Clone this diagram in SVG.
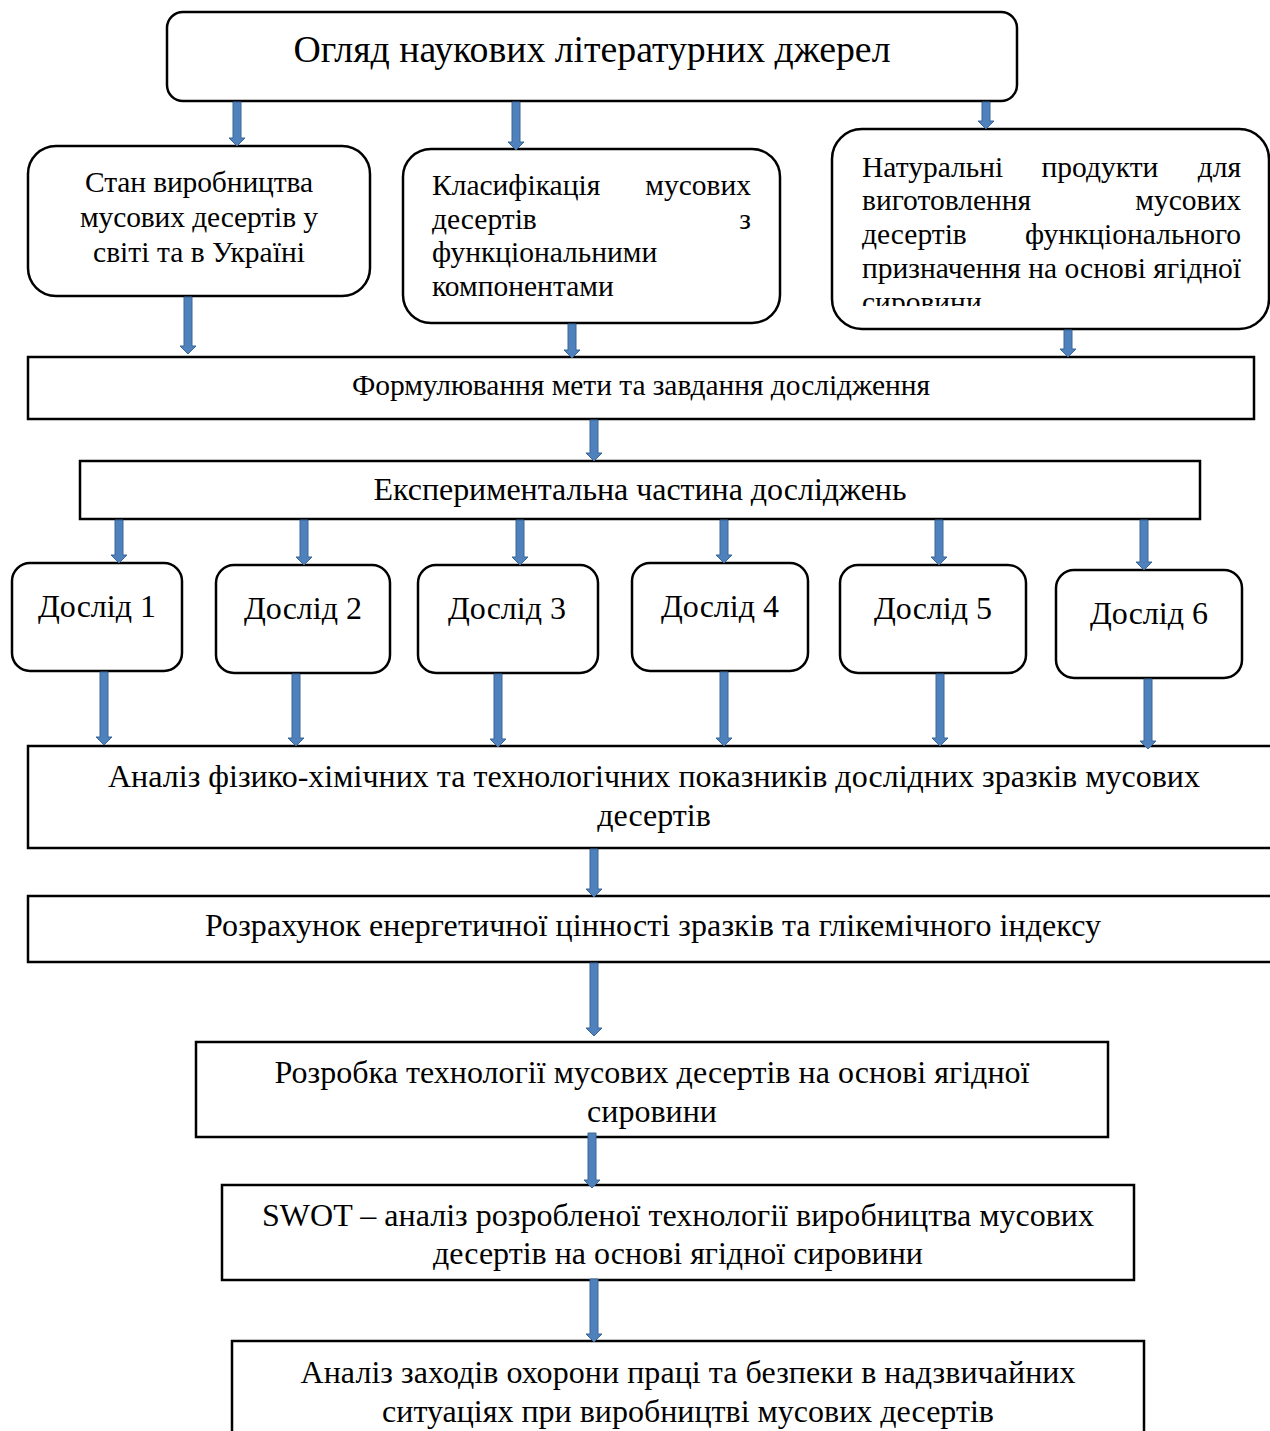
<svg xmlns="http://www.w3.org/2000/svg" width="1270" height="1431" viewBox="0 0 1270 1431">
<style>
.box{fill:#fff;stroke:#000;stroke-width:2.5}
.t{font-family:"Liberation Serif","Times New Roman",serif;fill:#000}
.c{text-anchor:middle}
.e{text-anchor:end}
.s{font-size:29.5px}
.m{font-size:32px}
.arr{fill:#4f81bd;stroke:#3a6698;stroke-width:1}
</style>
<defs>
<clipPath id="clipR"><rect x="832" y="129" width="440" height="177"/></clipPath>
</defs>
<rect width="1270" height="1431" fill="#fff"/>

<g id="n-top">
<rect class="box" x="167" y="12" width="850" height="89" rx="16"/>
<text class="t c" x="592" y="62" font-size="37.8" textLength="597">Огляд наукових літературних джерел</text>
</g>

<g id="n-stan">
<rect class="box" x="28" y="146" width="342" height="150" rx="28"/>
<text class="t c s" x="199" y="192" textLength="228">Стан виробництва</text>
<text class="t c s" x="199" y="227" textLength="238">мусових десертів у</text>
<text class="t c s" x="199" y="262" textLength="212">світі та в Україні</text>
</g>

<g id="n-klas">
<rect class="box" x="403" y="149" width="377" height="174" rx="28"/>
<text class="t s" x="432" y="195">Класифікація</text>
<text class="t e s" x="751" y="195">мусових</text>
<text class="t s" x="432" y="229">десертів</text>
<text class="t e s" x="751" y="229">з</text>
<text class="t s" x="432" y="262">функціональними</text>
<text class="t s" x="432" y="296">компонентами</text>
</g>

<g id="n-nat">
<rect class="box" x="832" y="129" width="437" height="200" rx="30"/>
<g clip-path="url(#clipR)">
<text class="t s" x="862" y="177">Натуральні</text>
<text class="t c s" x="1100" y="177">продукти</text>
<text class="t e s" x="1241" y="177">для</text>
<text class="t s" x="862" y="210">виготовлення</text>
<text class="t e s" x="1241" y="210">мусових</text>
<text class="t s" x="862" y="244">десертів</text>
<text class="t e s" x="1241" y="244">функціонального</text>
<text class="t s" x="862" y="278" textLength="379" lengthAdjust="spacing">призначення на основі ягідної</text>
<text class="t s" x="862" y="312">сировини</text>
</g>
</g>

<g id="n-meta">
<rect class="box" x="28" y="357" width="1226" height="62"/>
<text class="t c s" x="641" y="395" textLength="578">Формулювання мети та завдання дослідження</text>
</g>

<g id="n-exp">
<rect class="box" x="80" y="461" width="1120" height="58"/>
<text class="t c m" x="640" y="500" textLength="533">Експериментальна частина досліджень</text>
</g>

<g id="n-d1"><rect class="box" x="12" y="563" width="170" height="108" rx="18"/><text class="t c m" x="97" y="617">Дослід 1</text></g>
<g id="n-d2"><rect class="box" x="216" y="565" width="174" height="108" rx="18"/><text class="t c m" x="303" y="619">Дослід 2</text></g>
<g id="n-d3"><rect class="box" x="418" y="565" width="180" height="108" rx="18"/><text class="t c m" x="507" y="619">Дослід 3</text></g>
<g id="n-d4"><rect class="box" x="632" y="563" width="176" height="108" rx="18"/><text class="t c m" x="720" y="617">Дослід 4</text></g>
<g id="n-d5"><rect class="box" x="840" y="565" width="186" height="108" rx="18"/><text class="t c m" x="933" y="619">Дослід 5</text></g>
<g id="n-d6"><rect class="box" x="1056" y="570" width="186" height="108" rx="18"/><text class="t c m" x="1149" y="624">Дослід 6</text></g>

<g id="n-analiz">
<rect class="box" x="28" y="746" width="1250" height="102"/>
<text class="t c m" x="654" y="787" textLength="1092">Аналіз фізико-хімічних та технологічних показників дослідних зразків мусових</text>
<text class="t c m" x="654" y="826">десертів</text>
</g>

<g id="n-rozr">
<rect class="box" x="28" y="896" width="1250" height="66"/>
<text class="t c m" x="653" y="936" textLength="896">Розрахунок енергетичної цінності зразків та глікемічного індексу</text>
</g>

<g id="n-tech">
<rect class="box" x="196" y="1042" width="912" height="95"/>
<text class="t c m" x="652" y="1083" textLength="755">Розробка технології мусових десертів на основі ягідної</text>
<text class="t c m" x="652" y="1122">сировини</text>
</g>

<g id="n-swot">
<rect class="box" x="222" y="1185" width="912" height="95"/>
<text class="t c m" x="678" y="1226" textLength="832">SWOT – аналіз розробленої технології виробництва мусових</text>
<text class="t c m" x="678" y="1264">десертів на основі ягідної сировини</text>
</g>

<g id="n-ohor">
<rect class="box" x="232" y="1341" width="912" height="110"/>
<text class="t c m" x="688" y="1383" textLength="775">Аналіз заходів охорони праці та безпеки в надзвичайних</text>
<text class="t c m" x="688" y="1422">ситуаціях при виробництві мусових десертів</text>
</g>

<g id="connectors">
<path class="arr" d="M233,102 H241 V138 H245 L237,146 L229,138 H233 Z"/>
<path class="arr" d="M512,102 H520 V142 H524 L516,150 L508,142 H512 Z"/>
<path class="arr" d="M982,102 H990 V121 H994 L986,129 L978,121 H982 Z"/>
<path class="arr" d="M184,297 H192 V346 H196 L188,354 L180,346 H184 Z"/>
<path class="arr" d="M568,324 H576 V350 H580 L572,358 L564,350 H568 Z"/>
<path class="arr" d="M1064,330 H1072 V349 H1076 L1068,357 L1060,349 H1064 Z"/>
<path class="arr" d="M590,420 H598 V453 H602 L594,461 L586,453 H590 Z"/>
<path class="arr" d="M115,520 H123 V555 H127 L119,563 L111,555 H115 Z"/>
<path class="arr" d="M300,520 H308 V557 H312 L304,565 L296,557 H300 Z"/>
<path class="arr" d="M516,520 H524 V557 H528 L520,565 L512,557 H516 Z"/>
<path class="arr" d="M720,520 H728 V555 H732 L724,563 L716,555 H720 Z"/>
<path class="arr" d="M935,520 H943 V557 H947 L939,565 L931,557 H935 Z"/>
<path class="arr" d="M1140,520 H1148 V562 H1152 L1144,570 L1136,562 H1140 Z"/>
<path class="arr" d="M100,672 H108 V737 H112 L104,745 L96,737 H100 Z"/>
<path class="arr" d="M292,674 H300 V738 H304 L296,746 L288,738 H292 Z"/>
<path class="arr" d="M494,674 H502 V739 H506 L498,747 L490,739 H494 Z"/>
<path class="arr" d="M720,672 H728 V738 H732 L724,746 L716,738 H720 Z"/>
<path class="arr" d="M936,674 H944 V738 H948 L940,746 L932,738 H936 Z"/>
<path class="arr" d="M1144,679 H1152 V741 H1156 L1148,749 L1140,741 H1144 Z"/>
<path class="arr" d="M590,849 H598 V889 H602 L594,897 L586,889 H590 Z"/>
<path class="arr" d="M590,963 H598 V1028 H602 L594,1036 L586,1028 H590 Z"/>
<path class="arr" d="M588,1133 H596 V1180 H600 L592,1188 L584,1180 H588 Z"/>
<path class="arr" d="M590,1279 H598 V1334 H602 L594,1342 L586,1334 H590 Z"/>
</g>
</svg>
